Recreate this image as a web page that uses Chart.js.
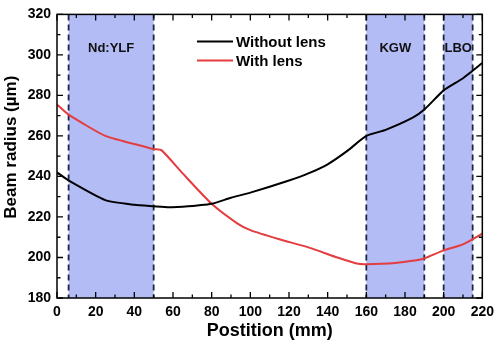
<!DOCTYPE html>
<html>
<head>
<meta charset="utf-8">
<script src="https://cdn.jsdelivr.net/npm/chart.js@4.4.1/dist/chart.umd.min.js"></script>
<style>
  html, body { margin: 0; padding: 0; background: #fff; }
  #box { width: 500px; height: 343px; }
</style>
</head>
<body>
<div id="box"><canvas id="miGrafica"></canvas></div>
<script>
// Datos
const posSin = [0, 6, 25, 40, 50, 58, 65, 80, 90, 100, 120, 130, 140, 150, 160, 170, 184, 190, 200, 210, 220];
const radioSin = [242, 238, 228.3, 226, 225.3, 224.8, 225, 226.5, 229.5, 232, 238, 241.5, 246, 252.5, 260, 263, 269, 273, 282.5, 288.5, 296];
const posCon = [0, 6, 25, 40, 50, 54, 65, 80, 93, 100, 115, 130, 145, 155, 160, 175, 185, 190, 200, 210, 220];
const radioCon = [275.5, 270.5, 260, 256, 253.5, 253, 241.5, 226.5, 217, 213.5, 209, 205, 200, 197, 196.7, 197.3, 198.5, 199.5, 203.5, 206.5, 211.8];

// Regiones de los cristales
const cristales = ['Nd:YLF', 'KGW', 'LBO'];
const cristalInicio = [6, 160, 200];
const cristalFin = [50, 190, 215];
const cristalEtiquetaY = 303;

const xTicks = [0, 20, 40, 60, 80, 100, 120, 140, 160, 180, 200, 220];
const yTicks = [180, 200, 220, 240, 260, 280, 300, 320];
const tituloY = 'Beam radius (µm)';

const fuente = "Arial, 'Liberation Sans', sans-serif";

function serie(xs, ys) {
    return xs.map((x, i) => ({ x: x, y: ys[i] }));
}

// Plugin: zonas sombreadas, marco, ticks hacia dentro, leyenda
const decoracion = {
    id: 'decoracion',
    beforeDatasetsDraw(chart) {
        const { ctx, chartArea: a, scales: { x, y } } = chart;
        ctx.save();
        cristales.forEach((nombre, i) => {
            const x0 = x.getPixelForValue(cristalInicio[i]);
            const x1 = x.getPixelForValue(cristalFin[i]);
            ctx.fillStyle = 'rgb(180,188,246)';
            ctx.fillRect(x0, a.top, x1 - x0, a.bottom - a.top);
            ctx.strokeStyle = '#1d2744';
            ctx.lineWidth = 1.8;
            ctx.setLineDash([6, 4]);
            [x0, x1].forEach(px => {
                ctx.beginPath();
                ctx.moveTo(px, a.top);
                ctx.lineTo(px, a.bottom);
                ctx.stroke();
            });
            ctx.setLineDash([]);
            ctx.fillStyle = '#111';
            ctx.font = 'bold 13px ' + fuente;
            ctx.textAlign = 'center';
            ctx.textBaseline = 'middle';
            ctx.fillText(nombre, (x0 + x1) / 2, y.getPixelForValue(cristalEtiquetaY));
        });
        ctx.restore();
    },
    afterDraw(chart) {
        const { ctx, chartArea: a, scales: { x, y } } = chart;
        ctx.save();
        ctx.strokeStyle = '#000';
        ctx.lineWidth = 1.5;
        ctx.strokeRect(a.left, a.top, a.right - a.left, a.bottom - a.top);
        // ticks mayores y menores
        ctx.lineWidth = 1.3;
        ctx.beginPath();
        for (let v = 0; v <= 220; v += 10) {
            const px = x.getPixelForValue(v);
            const len = v % 20 === 0 ? 6 : 3.5;
            ctx.moveTo(px, a.bottom); ctx.lineTo(px, a.bottom - len);
            ctx.moveTo(px, a.top); ctx.lineTo(px, a.top + len);
        }
        for (let v = 180; v <= 320; v += 10) {
            const py = y.getPixelForValue(v);
            const len = v % 20 === 0 ? 6 : 3.5;
            ctx.moveTo(a.left, py); ctx.lineTo(a.left + len, py);
            ctx.moveTo(a.right, py); ctx.lineTo(a.right - len, py);
        }
        ctx.stroke();
        // titulo del eje Y (un poco por encima del centro, como en la figura)
        ctx.save();
        ctx.translate(11, (a.top + a.bottom) / 2 - 9);
        ctx.rotate(-Math.PI / 2);
        ctx.font = 'bold 17px ' + fuente;
        ctx.fillStyle = '#000';
        ctx.textAlign = 'center';
        ctx.textBaseline = 'middle';
        ctx.fillText(tituloY, 0, 0);
        ctx.restore();
        // leyenda
        ctx.font = 'bold 15px ' + fuente;
        ctx.textAlign = 'left';
        ctx.textBaseline = 'middle';
        chart.data.datasets.forEach((ds, i) => {
            const ly = a.top + 27 + i * 19;
            ctx.strokeStyle = ds.borderColor;
            ctx.lineWidth = 2;
            ctx.beginPath();
            ctx.moveTo(197, ly);
            ctx.lineTo(233, ly);
            ctx.stroke();
            ctx.fillStyle = '#000';
            ctx.fillText(ds.label, 236, ly + 1);
        });
        ctx.restore();
    }
};

const ctx = document.getElementById('miGrafica').getContext('2d');
new Chart(ctx, {
    type: 'line',
    data: {
        datasets: [{
            label: 'Without lens',
            data: serie(posSin, radioSin),
            borderColor: '#000000',
            borderWidth: 2,
            pointRadius: 0,
            fill: false,
            tension: 0.2
        }, {
            label: 'With lens',
            data: serie(posCon, radioCon),
            borderColor: '#e43c3f',
            borderWidth: 2,
            pointRadius: 0,
            fill: false,
            tension: 0.2
        }]
    },
    options: {
        responsive: true,
        maintainAspectRatio: false,
        animation: false,
        layout: { padding: { top: 6, right: 12, left: 0, bottom: 0 } },
        plugins: {
            legend: { display: false },
            tooltip: { enabled: false }
        },
        scales: {
            x: {
                type: 'linear',
                min: 0,
                max: 220,
                afterBuildTicks: s => { s.ticks = xTicks.map(v => ({ value: v })); },
                afterFit: s => { s.height = 45; },
                grid: { display: false, drawTicks: false },
                border: { display: false },
                ticks: { color: '#000', padding: 6, maxRotation: 0, font: { family: fuente, size: 14, weight: 'bold' } },
                title: {
                    display: true,
                    text: 'Postition (mm)',
                    color: '#000',
                    padding: { top: 0, bottom: 1 },
                    font: { family: fuente, size: 18, weight: 'bold' }
                }
            },
            y: {
                min: 180,
                max: 320,
                afterBuildTicks: s => { s.ticks = yTicks.map(v => ({ value: v })); },
                afterFit: s => { s.width = 57; },
                grid: { display: false, drawTicks: false },
                border: { display: false },
                ticks: { color: '#000', padding: 6, font: { family: fuente, size: 14, weight: 'bold' } }
            }
        }
    },
    plugins: [decoracion]
});
</script>
</body>
</html>
